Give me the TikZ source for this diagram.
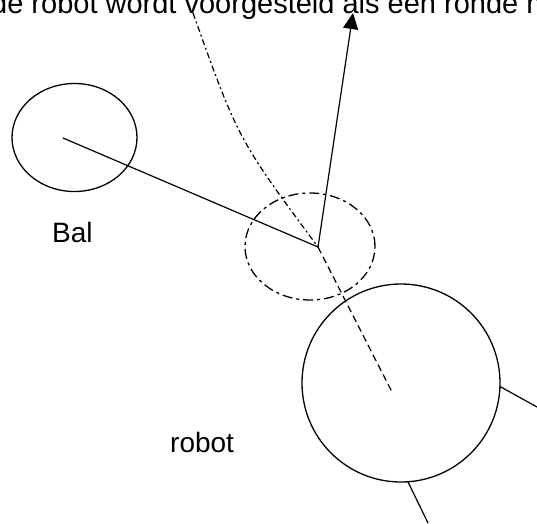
\documentclass[tikz,border=0pt]{standalone}
\usepackage{fontspec}
\setmainfont{Liberation Sans}
\usetikzlibrary{shapes.geometric,arrows.meta}
\begin{document}
\begin{tikzpicture}[x=1pt,y=-1pt,
  lbl/.style={font=\fontsize{28}{30}\selectfont, inner sep=0, anchor=base west},
  oval/.style={ellipse, draw, line width=1.3pt, inner sep=0, outer sep=0},
  disc/.style={circle, draw, line width=1.3pt, inner sep=0, outer sep=0},
  thin/.style={line width=1.2pt},
  trailstyle/.style={thin, dash pattern=on 6pt off 3pt on 2pt off 3pt},
  pathstyle/.style={thin, dash pattern=on 7pt off 4pt}]
\useasboundingbox (0,0) rectangle (537,523);
\clip (0,0) rectangle (537,523);
\node[lbl, font=\fontsize{29}{31}\selectfont] (title) at (-9,13) {de robot wordt voorgesteld als een ronde m};
\node[oval, minimum width=125pt, minimum height=108pt] (ball) at (74.5,137.5) {};
\node[oval, dash pattern=on 10pt off 4pt on 3pt off 4pt, minimum width=130pt, minimum height=107pt] (ghost) at (310,246.5) {};
\node[disc, minimum size=198pt] (robot) at (401,383) {};
\coordinate (bc) at (63,138);
\coordinate (joint) at (318,247);
\coordinate (tip) at (353,13);
\coordinate (trail) at (193,13);
\coordinate (rc) at (392,392);
\coordinate (e1) at (537,407);
\coordinate (e2) at (428,523);
\draw[thin] (bc) -- (joint);
\draw[thin, -{Triangle[length=16pt,width=15pt]}] (joint) -- (tip);
\draw[trailstyle] (trail) .. controls (238,139) .. (joint);
\draw[pathstyle] (joint) -- (rc);
\draw[thin] (robot.-2) -- (e1);
\draw[thin] (robot.-86.5) -- (e2);
\node[lbl] (bal) at (52,242) {Bal};
\node[lbl] (rlabel) at (170,452) {robot};
\end{tikzpicture}
\end{document}
